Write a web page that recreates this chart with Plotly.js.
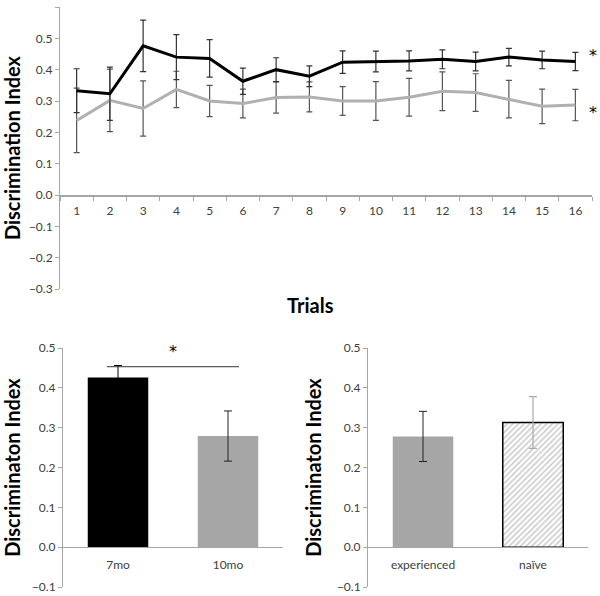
<!DOCTYPE html>
<html><head><meta charset="utf-8">
<script src="https://cdn.plot.ly/plotly-3.0.1.min.js"></script>
<style>html,body{margin:0;padding:0;background:#fff}#c{width:600px;height:596px}</style>
</head><body><div id="c"></div>
<script>
const trials = ['1','2','3','4','5','6','7','8','9','10','11','12','13','14','15','16'];
const blackVals = [0.333,0.323,0.476,0.440,0.436,0.363,0.400,0.379,0.424,0.426,0.428,0.433,0.426,0.440,0.431,0.426];
const blackErr  = [0.070,0.085,0.082,0.072,0.060,0.042,0.038,0.033,0.036,0.033,0.032,0.030,0.030,0.028,0.028,0.029];
const grayVals  = [0.238,0.302,0.276,0.337,0.300,0.292,0.311,0.313,0.300,0.300,0.312,0.331,0.327,0.306,0.283,0.287];
const grayErr   = [0.103,0.100,0.088,0.058,0.050,0.046,0.050,0.048,0.046,0.062,0.060,0.062,0.060,0.060,0.055,0.050];

const ageGroups = ['7mo','10mo'];
const ageVals = [0.426, 0.279];
const ageErr  = [0.030, 0.063];

const expGroups = ['experienced','naïve'];
const expVals = [0.278, 0.313];
const expErr  = [0.063, 0.065];

const F = 'Lato, "Open Sans", sans-serif';
const tickFont = {family: F, size: 12, color: '#404040'};
const titleFont = {family: F, size: 20, color: '#000', weight: 'bold'};
const axGray = '#a6a6a6';
const starFont = {family: '"DejaVu Sans", sans-serif', size: 16, color: '#000'};

const data = [
  {x: trials, y: grayVals, type: 'scatter', mode: 'lines', xaxis: 'x', yaxis: 'y',
   line: {color: '#b0b0b0', width: 3},
   error_y: {type: 'data', array: grayErr, visible: true, color: '#555', thickness: 1.2, width: 3}},
  {x: trials, y: blackVals, type: 'scatter', mode: 'lines', xaxis: 'x', yaxis: 'y',
   line: {color: '#000', width: 3},
   error_y: {type: 'data', array: blackErr, visible: true, color: '#333', thickness: 1.2, width: 3}},
  {x: ageGroups.slice(0,1), y: ageVals.slice(0,1), type: 'bar', xaxis: 'x2', yaxis: 'y2',
   marker: {color: '#000000'},
   error_y: {type: 'data', array: ageErr.slice(0,1), visible: true, color: '#000', thickness: 1, width: 4}},
  {x: ageGroups.slice(1), y: ageVals.slice(1), type: 'bar', xaxis: 'x2', yaxis: 'y2',
   marker: {color: '#a6a6a6'},
   error_y: {type: 'data', array: ageErr.slice(1), visible: true, color: '#222', thickness: 1, width: 4}},
  {x: expGroups.slice(0,1), y: expVals.slice(0,1), type: 'bar', xaxis: 'x3', yaxis: 'y3',
   marker: {color: '#a6a6a6'},
   error_y: {type: 'data', array: expErr.slice(0,1), visible: true, color: '#222', thickness: 1, width: 4}},
  {x: expGroups.slice(1), y: expVals.slice(1), type: 'bar', xaxis: 'x3', yaxis: 'y3',
   marker: {color: '#ffffff', line: {color: '#000000', width: 1.5},
            pattern: {shape: '/', fgcolor: '#999999', bgcolor: '#ffffff', size: 4, solidity: 0.4, fillmode: 'overlay'}},
   error_y: {type: 'data', array: expErr.slice(1), visible: true, color: '#aaaaaa', thickness: 1.2, width: 4}}
];

const topY0 = 1 - 289/596, topY1 = 1 - 7/596;
const botY0 = 1 - 587/596, botY1 = 1 - 348/596;
const zeroTop = topY0 + (topY1 - topY0) * (0.3/0.9);
const zeroBot = botY0 + (botY1 - botY0) * (0.1/0.6);

function yax(range, dtick, domain, anchor) {
  return {domain: domain, range: range, dtick: dtick, tickformat: '.1f', anchor: anchor,
    showline: true, linecolor: axGray, linewidth: 1, ticks: 'outside', ticklen: 4, tickcolor: axGray,
    showgrid: false, zeroline: false, tickfont: tickFont, fixedrange: true};
}

const layout = {
  width: 600, height: 596, margin: {l: 0, r: 0, t: 0, b: 0},
  paper_bgcolor: '#fff', plot_bgcolor: 'rgba(0,0,0,0)', showlegend: false,
  barmode: 'overlay', bargap: 0.45,
  xaxis: {domain: [60/600, 592/600], type: 'category', anchor: 'free', position: zeroTop,
    showline: true, linecolor: axGray, linewidth: 1.5, ticks: 'outside', tickson: 'boundaries',
    ticklen: 4, tickcolor: axGray, showgrid: false, tickfont: tickFont, ticklabelstandoff: 4,
    range: [-0.5, 15.5]},
  yaxis: Object.assign(yax([-0.3, 0.6], 0.1, [topY0, topY1], 'x'),
    {title: {text: 'Discrimination Index', font: titleFont, standoff: 9}}),
  xaxis2: {domain: [63/600, 283/600], type: 'category', anchor: 'free', position: zeroBot,
    showline: true, linecolor: axGray, linewidth: 1, ticks: '', showgrid: false,
    tickfont: tickFont, ticklabelstandoff: 6, categoryorder: 'array', categoryarray: ageGroups},
  yaxis2: Object.assign(yax([-0.1, 0.5], 0.1, [botY0, botY1], 'x2'),
    {title: {text: 'Discriminaton Index', font: titleFont, standoff: 9}}),
  xaxis3: {domain: [368/600, 588/600], type: 'category', anchor: 'free', position: zeroBot,
    showline: true, linecolor: axGray, linewidth: 1, ticks: '', showgrid: false,
    tickfont: tickFont, ticklabelstandoff: 6, categoryorder: 'array', categoryarray: expGroups},
  yaxis3: Object.assign(yax([-0.1, 0.5], 0.1, [botY0, botY1], 'x3'),
    {title: {text: 'Discriminaton Index', font: titleFont, standoff: 9}}),
  shapes: [
    {type: 'line', xref: 'x2', yref: 'y2', x0: -0.1, x1: 1.1, y0: 0.453, y1: 0.453,
     line: {color: '#333', width: 1}}
  ],
  annotations: [
    {text: 'Trials', xref: 'paper', yref: 'paper', x: 310/600, y: 1 - 305/596, showarrow: false,
     font: {family: F, size: 20, color: '#000', weight: 'bold'}},
    {text: '*', xref: 'paper', yref: 'y', x: 593/600, y: blackVals[15] + 0.02, xanchor: 'center', showarrow: false,
     font: starFont},
    {text: '*', xref: 'paper', yref: 'y', x: 593/600, y: grayVals[15] - 0.025, xanchor: 'center', showarrow: false,
     font: starFont},
    {text: '*', xref: 'x2', yref: 'y2', x: 0.5, y: 0.49, showarrow: false, font: starFont}
  ]
};

Plotly.newPlot('c', data, layout, {displayModeBar: false, staticPlot: true});
</script></body></html>
